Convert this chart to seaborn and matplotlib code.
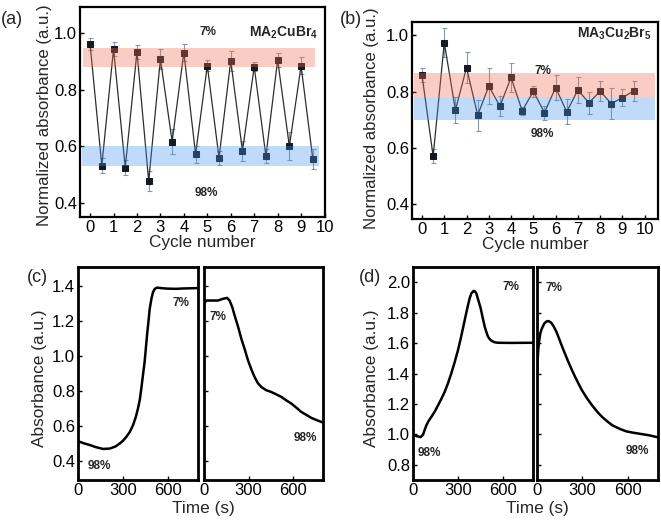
import matplotlib
matplotlib.use('Agg')
import matplotlib.pyplot as plt
import seaborn as sns

sns.set_theme(style='ticks')
plt.rcParams['font.family'] = ['Liberation Sans', 'DejaVu Sans']
plt.rcParams['mathtext.fontset'] = 'custom'
plt.rcParams['mathtext.bf'] = 'Liberation Sans:bold'
plt.rcParams['mathtext.rm'] = 'Liberation Sans'

# cycling data (half-cycle positions)
cycle = [0, 0.5, 1, 1.5, 2, 2.5, 3, 3.5, 4, 4.5, 5, 5.5, 6, 6.5, 7, 7.5, 8, 8.5, 9, 9.5]
a_val = [0.962, 0.532, 0.944, 0.525, 0.935, 0.477, 0.909, 0.617, 0.932, 0.572,
         0.886, 0.559, 0.903, 0.583, 0.882, 0.565, 0.906, 0.600, 0.885, 0.555]
a_err = [0.02, 0.025, 0.025, 0.025, 0.025, 0.035, 0.035, 0.045, 0.03, 0.03,
         0.02, 0.025, 0.035, 0.035, 0.015, 0.025, 0.025, 0.05, 0.03, 0.035]
b_val = [0.858, 0.570, 0.974, 0.734, 0.885, 0.716, 0.819, 0.748, 0.850, 0.731,
         0.801, 0.725, 0.814, 0.728, 0.805, 0.760, 0.801, 0.757, 0.778, 0.802]
b_err = [0.025, 0.025, 0.05, 0.045, 0.055, 0.055, 0.065, 0.035, 0.05, 0.015,
         0.02, 0.025, 0.045, 0.045, 0.045, 0.04, 0.035, 0.055, 0.03, 0.035]

# time traces
c1_t = [0, 40, 80, 120, 167, 211, 250, 278, 300, 322, 345, 367, 385, 400, 412, 422, 433,
        444, 452, 460, 470, 478, 490, 500, 512, 527, 545, 567, 600, 655, 700, 750, 800]
c1_v = [0.512, 0.500, 0.490, 0.478, 0.468, 0.470, 0.482, 0.499, 0.515, 0.537, 0.565, 0.604,
        0.650, 0.700, 0.750, 0.813, 0.890, 0.966, 1.040, 1.118, 1.200, 1.270, 1.330, 1.366,
        1.385, 1.392, 1.390, 1.388, 1.386, 1.385, 1.387, 1.388, 1.389]
c2_t = [0, 16, 49, 94, 128, 155, 172, 190, 206, 230, 251, 275, 296, 320, 340, 362, 385,
        419, 450, 475, 520, 555, 587, 620, 654, 690, 721, 760, 800]
c2_v = [1.299, 1.318, 1.318, 1.318, 1.328, 1.333, 1.318, 1.280, 1.232, 1.165, 1.099, 1.035,
        0.975, 0.920, 0.880, 0.845, 0.823, 0.804, 0.795, 0.785, 0.766, 0.745, 0.728, 0.705,
        0.680, 0.662, 0.646, 0.632, 0.619]
d1_t = [0, 22, 51, 67, 78, 89, 105, 122, 145, 167, 190, 211, 233, 255, 278, 300, 317, 333,
        350, 367, 378, 389, 404, 413, 422, 436, 451, 465, 478, 490, 500, 513, 527, 545, 567,
        650, 800]
d1_v = [0.998, 0.989, 0.982, 0.998, 1.030, 1.059, 1.090, 1.114, 1.150, 1.191, 1.235, 1.279,
        1.335, 1.400, 1.475, 1.554, 1.625, 1.697, 1.775, 1.851, 1.895, 1.927, 1.943, 1.940,
        1.927, 1.880, 1.829, 1.765, 1.708, 1.670, 1.642, 1.624, 1.613, 1.605, 1.602, 1.601,
        1.602]
d2_t = [0, 5, 9, 15, 22, 30, 38, 48, 61, 76, 94, 110, 128, 145, 162, 185, 207, 230, 252,
        275, 297, 330, 364, 397, 431, 465, 499, 545, 589, 635, 679, 746, 800]
d2_v = [1.400, 1.500, 1.565, 1.620, 1.664, 1.690, 1.708, 1.728, 1.741, 1.745, 1.734, 1.710,
        1.675, 1.632, 1.587, 1.530, 1.477, 1.425, 1.378, 1.332, 1.290, 1.238, 1.191, 1.150,
        1.114, 1.085, 1.059, 1.037, 1.020, 1.011, 1.004, 0.993, 0.980]

W, H = 661, 521
fig = plt.figure(figsize=(W / 100, H / 100), dpi=100)


def box(l, t, r, b):
    return fig.add_axes([l / W, 1 - b / H, (r - l) / W, (b - t) / H])


def style(ax, lw=1.6):
    for s in ax.spines.values():
        s.set_linewidth(lw)
        s.set_color('black')
    ax.tick_params(direction='in', length=3, width=1, labelsize=12, pad=2, colors='black')


red = (0.94, 0.43, 0.31)
blue = (0.27, 0.59, 0.94)


def cycling(ax, val, err, xl, yl, bands, title, t7, t98, ylab_pos):
    ax.errorbar(cycle, val, yerr=err, fmt='none', ecolor='#8797a8', elinewidth=0.8,
                capsize=1.8, capthick=0.8, zorder=2)
    sns.lineplot(x=cycle, y=val, ax=ax, color='#2e2e2e', lw=0.9, marker='s', markersize=4.4,
                 markerfacecolor='#151a22', markeredgecolor='#151a22', zorder=3)
    for (x0, x1, y0, y1, c) in bands:
        ax.fill_between([x0, x1], y0, y1, color=c, alpha=0.34, lw=0, zorder=5)
    ax.set_xlim(*xl)
    ax.set_ylim(*yl)
    ax.set_xticks(range(0, 11))
    ax.set_yticks([0.4, 0.6, 0.8, 1.0])
    ax.set_xlabel('Cycle number', fontsize=12.4, labelpad=0)
    ax.set_ylabel('Normalized absorbance (a.u.)', fontsize=12.1)
    ax.yaxis.set_label_coords(*ylab_pos)
    ax.text(title[0], title[1], title[2], ha='right', va='center', fontsize=10, zorder=6)
    ax.text(t7[0], t7[1], '7%', ha='center', va='center', fontsize=8.5, fontweight='bold', zorder=6)
    ax.text(t98[0], t98[1], '98%', ha='center', va='center', fontsize=8.5, fontweight='bold', zorder=6)
    style(ax, 1.6)


# (a)
ax_a = box(80, 7, 325, 217)
cycling(ax_a, a_val, a_err, (-0.43, 10.02), (0.35, 1.093),
        [(-0.31, 9.6, 0.882, 0.947, red), (-0.33, 9.77, 0.532, 0.600, blue)],
        (9.72, 1.0, r'$\mathbf{MA_2CuBr_4}$'), (5.03, 1.003), (4.95, 0.434),
        (-0.114, 0.486))

# (b)
ax_b = box(412, 22, 658, 219)
cycling(ax_b, b_val, b_err, (-0.45, 10.6), (0.347, 1.047),
        [(-0.38, 10.45, 0.781, 0.866, red), (-0.38, 10.45, 0.700, 0.781, blue)],
        (10.3, 1.006, r'$\mathbf{MA_3Cu_2Br_5}$'), (5.43, 0.872), (5.42, 0.649),
        (-0.136, 0.51))


def trace(ax, t, v, yl, yt, labels, show_y):
    sns.lineplot(x=t, y=v, ax=ax, color='black', lw=1.8, sort=False, estimator=None)
    ax.set_xlim(0, 800)
    ax.set_ylim(*yl)
    ax.set_xticks([0, 300, 600])
    ax.set_yticks(yt)
    ax.set_xlabel('')
    if not show_y:
        ax.set_yticklabels([])
    for (x, y, s) in labels:
        ax.text(x, y, s, ha='center', va='center', fontsize=8.5, fontweight='bold')
    style(ax, 2.0)


# (c)
c_yt = [0.4, 0.6, 0.8, 1.0, 1.2, 1.4]
ax_c1 = box(78, 267, 198, 480)
trace(ax_c1, c1_t, c1_v, (0.29, 1.51), c_yt, [(145, 0.371, '98%'), (684, 1.305, '7%')], True)
ax_c1.set_ylabel('Absorbance (a.u.)', fontsize=12.4)
ax_c1.yaxis.set_label_coords(-0.258, 0.479)
ax_c2 = box(204, 267, 323, 480)
trace(ax_c2, c2_t, c2_v, (0.29, 1.51), c_yt, [(94, 1.223, '7%'), (683, 0.528, '98%')], False)

# (d)
d_yt = [0.8, 1.0, 1.2, 1.4, 1.6, 1.8, 2.0]
ax_d1 = box(413, 267, 533, 480)
trace(ax_d1, d1_t, d1_v, (0.7, 2.1), d_yt, [(110, 0.879, '98%'), (655, 1.971, '7%')], True)
ax_d1.set_ylabel('Absorbance (a.u.)', fontsize=12.4)
ax_d1.yaxis.set_label_coords(-0.283, 0.479)
ax_d2 = box(537, 267, 658, 480)
trace(ax_d2, d2_t, d2_v, (0.7, 2.1), d_yt, [(112, 1.965, '7%'), (660, 0.888, '98%')], False)

fig.text(203 / W, 1 - 508 / H, 'Time (s)', ha='center', va='center', fontsize=12.4)
fig.text(537 / W, 1 - 508 / H, 'Time (s)', ha='center', va='center', fontsize=12.4)

for (x, y, s) in [(12, 19, '(a)'), (351, 20, '(b)'), (37, 278, '(c)'), (370, 277, '(d)')]:
    fig.text(x / W, 1 - y / H, s, ha='center', va='center', fontsize=13)

fig.savefig('out.png', dpi=100)
